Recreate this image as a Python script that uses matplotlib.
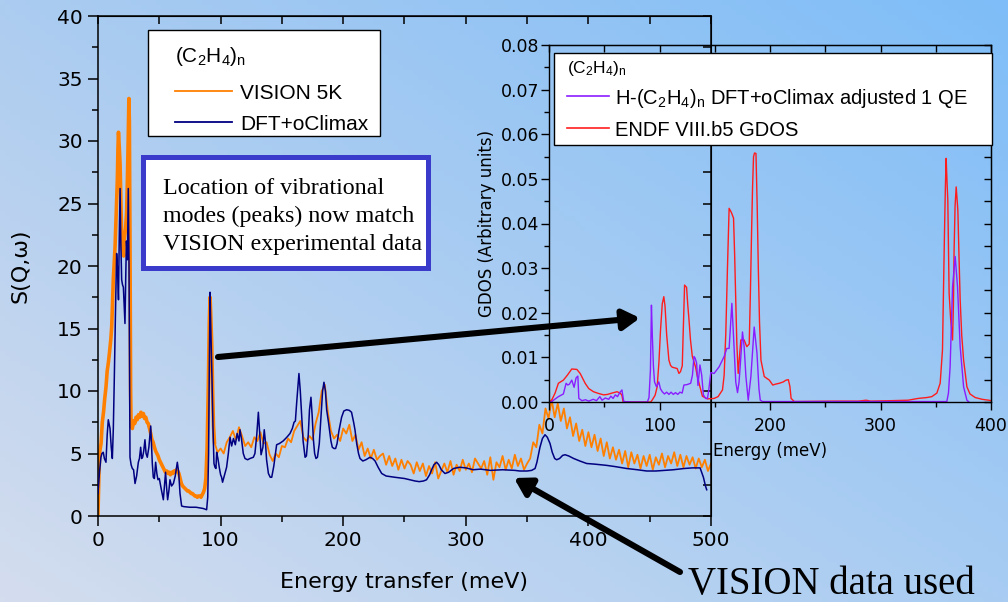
import numpy as np
import matplotlib
matplotlib.use('Agg')
import matplotlib.pyplot as plt
from matplotlib.patches import Rectangle, FancyArrowPatch
from matplotlib.lines import Line2D
from matplotlib.ticker import MultipleLocator, FormatStrFormatter

plt.rcParams['font.family'] = ['DejaVu Sans']
plt.rcParams['mathtext.default'] = 'regular'

# ---- main panel: VISION 5K (orange), low-energy part read point by point
vis_lo_e = [0, 0.8, 1.5, 2.5, 3.5, 4.5, 5.5, 6.5, 7.5, 8.5, 9.5, 10.5, 11.2, 12, 12.5, 13.2,
            13.9, 14.6, 15.3, 15.8, 16.3, 16.7, 17.2, 18, 18.7, 19.3, 20, 21, 21.5, 22.5, 23.3,
            24, 24.6, 25.2, 25.6, 26.1, 26.6, 27, 28, 29, 30, 31, 32, 33, 34, 35, 36, 37, 38,
            39, 40, 41, 42, 43, 44, 45, 46, 47, 48, 49, 50, 51, 52, 53, 54, 55, 56, 57, 58, 59,
            60, 61, 62, 63, 64, 65, 66, 67, 68, 69, 70, 71, 72, 73, 74, 75, 76, 77, 78, 79, 80,
            81, 82, 83, 84, 85, 86, 87, 88, 89, 90, 90.8, 91.4, 92, 92.8, 93.5, 94.2, 95]
vis_lo_s = [0.2, 3.5, 5.2, 5.8, 7.5, 8.3, 9.4, 10.3, 11.6, 12.3, 13.2, 14.2, 15.2, 17.5, 19, 20.2,
            21.5, 23.5, 25.5, 27, 29.5, 30.7, 29.8, 28.2, 25, 22.5, 21.3, 20.8, 22.2, 23, 24.2,
            27, 30, 33.4, 31.5, 22, 10, 7.2, 7.0, 7.6, 7.4, 7.9, 7.7, 8.1, 7.9, 8.3, 8.0, 8.2, 7.8,
            7.9, 7.5, 7.4, 7.0, 6.6, 6.1, 5.9, 5.5, 5.2, 5.0, 4.8, 4.5, 4.3, 4.1, 3.9, 3.7, 3.5,
            3.6, 3.4, 3.5, 3.3, 3.5, 3.4, 3.6, 3.5, 3.7, 3.6, 3.4, 3.0, 2.6, 2.4, 2.3, 2.2, 2.1,
            2.0, 2.0, 1.9, 1.8, 1.8, 1.7, 1.6, 1.6, 1.5, 1.6, 1.6, 1.5, 1.7, 1.9, 2.2, 3.0, 5.5,
            10.5, 15.5, 17.5, 16, 13.6, 10, 7.2, 5.9]
# 95 ... 500 meV, 2.5 meV bins (10 per row, row k starts at 95 + 25k)
vis_hi_s = [5.9, 5.1, 5.4, 5.0, 5.9, 6.3, 6.8, 6.1, 7.1, 6.4,
            5.6, 5.9, 5.5, 6.3, 6.0, 6.7, 5.8, 5.9, 4.9, 4.4,
            5.0, 4.7, 5.6, 5.5, 6.2, 5.9, 6.8, 7.2, 7.6, 6.3,
            6.0, 6.4, 6.1, 7.4, 8.3, 10.0, 10.5, 8.3, 6.8, 6.2,
            6.5, 6.0, 7.0, 6.6, 7.3, 6.0, 6.5, 5.3, 5.9, 4.8,
            5.4, 4.6, 5.3, 4.5, 4.8, 5.0, 4.1, 4.8, 4.0, 4.6,
            3.7, 4.5, 3.8, 4.4, 4.1, 3.4, 4.3, 3.6, 4.2, 3.2,
            4.0, 3.4, 4.3, 3.0, 3.6, 4.2, 3.5, 4.4, 3.3, 4.1,
            3.6, 4.5, 3.7, 4.2, 3.5, 4.6, 4.2, 3.8, 4.4, 3.3,
            4.7, 2.9, 4.3, 3.9, 4.8, 3.7, 4.5, 3.8, 4.9, 4.0,
            4.6, 3.7, 4.2, 4.6, 5.9, 5.5, 7.3, 6.6, 8.6, 7.8,
            9.3, 7.9, 9.0, 7.6, 8.6, 7.0, 7.9, 6.4, 7.4, 6.0,
            6.9, 5.6, 6.7, 5.5, 6.5, 5.2, 6.2, 4.8, 5.9, 4.6,
            5.5, 4.5, 5.3, 4.2, 5.2, 3.9, 5.1, 4.2, 4.9, 3.8,
            4.8, 4.0, 4.9, 3.7, 4.7, 4.1, 5.0, 3.9, 4.8, 4.2,
            5.1, 4.0, 4.9, 3.9, 4.8, 4.1, 4.7, 3.8, 4.6, 3.9,
            4.5, 3.6, 4.2]
vis_hi_e = np.arange(95, 500.01, 2.5)

# ---- main panel: DFT+oClimax (navy)
dft_e = [0, 1.2, 2.4, 3.2, 4.3, 5.2, 6.5, 7.5, 8.4, 9.8, 10.8, 11.7, 12.5, 13.3, 14.2, 15.2,
         16, 16.7, 17.3, 18, 18.6, 19.3, 20, 20.7, 22, 22.6, 23.2, 24, 24.7, 25.3, 26.1, 27, 28,
         29, 30.2, 31.5, 32.9, 33.8, 34.8, 35.6, 36.4, 37.3, 38.3, 39.2, 40.2, 41.5, 43, 43.7,
         44.3, 45.1, 46, 47, 48, 48.9, 50, 51.5, 53.3, 54.2, 55.1, 56, 56.8, 57.8, 58.7, 60,
         61.5, 63, 64.7, 65.8, 66.9, 68.2, 70, 75, 80, 85.9, 88.6, 89.5, 90.2, 90.8, 91.4, 92,
         93, 93.8, 94.6, 95.4, 96.2, 96.8, 97.8, 98.9, 100, 100.8, 101.6, 103, 104.9, 106.3,
         107.7, 109, 110.5, 112, 113.5, 115, 115.8, 117, 118.5, 119.9, 122, 124, 126.7, 128,
         129.5, 130.8, 132, 133, 134.5, 135.6, 136.5, 137.5, 139, 140.5, 141.7, 143.4, 145.7,
         148, 151, 154, 156.6, 158.5, 159.9, 161, 162, 163.9, 165, 166, 167.3, 168.9, 170,
         171.5, 172.5, 173.7, 174.7, 175.7, 176.7, 177.8, 179, 180.5, 182, 183.2, 184.3, 185.5,
         186.5, 188, 190, 191.1, 192.5, 193.8, 195, 196.5, 198.7, 200.5, 202.8, 205, 206.8,
         208.5, 209.6, 211, 212.5, 213.7, 216, 218.5, 221.9, 224, 226, 228.5, 231.4, 235, 242,
         250, 258.6, 262, 265.5, 268, 270.5, 272.1, 274, 276.2, 278, 280, 283, 286, 290, 295,
         300, 306, 312, 320, 330, 340, 344, 350, 353.7, 356.5, 358, 360.5, 362.5, 364.6, 366.5,
         368.7, 370.5, 372.5, 374.1, 376.5, 379, 381, 384, 388, 393, 398.6, 405, 414.9, 422,
         431.2, 440, 447.5, 455, 462, 469.3, 478, 485, 491.1, 493.8, 495.5, 496.5]
dft_s = [1.8, 3.5, 4.7, 5.0, 5.1, 4.6, 4.3, 6.5, 7.7, 7.0, 5.5, 4.6, 7, 11, 16, 21,
         19.5, 17.3, 22, 26.2, 22, 18.9, 18.5, 18.3, 15.4, 19, 22, 20.5, 26.2, 20, 4.7, 4.1, 3.8,
         3.7, 2.6, 3.2, 4.3, 4.6, 5.5, 4.6, 4.7, 5.2, 6.1, 5.0, 4.7, 5.5, 7.2, 5.5,
         4.2, 3.1, 3.0, 4.3, 3.4, 2.9, 3.0, 2.2, 1.3, 2.4, 3.5, 2.2, 1.3, 2.0, 2.9, 2.4,
         2.6, 3.2, 4.3, 3.5, 1.8, 0.8, 0.75, 0.7, 0.7, 0.6, 0.5, 1.5, 5, 12, 17.9, 15,
         10.9, 7, 4.2, 3.9, 3.8, 5.1, 4.6, 3.9, 3.3, 3.1, 2.7, 3.2, 3.9, 5.0,
         6.3, 5.6, 6.2, 5.7, 6.6, 6.0, 6.9, 6.2, 5.0, 4.6, 4.5, 4.6, 4.7, 5.0,
         6.5, 8.3, 6.5, 4.9, 5.5, 6.9, 6.0, 4.5, 3.4, 3.1, 3.1, 4.0, 5.7,
         5.8, 6.0, 6.3, 6.6, 7.0, 7.5, 7.6, 9.0, 11.4, 10, 8.3, 6.0, 4.7, 4.8,
         6.5, 8.5, 9.5, 8, 6.1, 5.0, 4.6, 4.7, 5.8, 8.2, 10.0, 10.7, 10,
         8.5, 7.5, 6.0, 5.5, 5.4, 5.4, 5.8, 6.8, 7.9, 8.4, 8.5, 8.45, 8.3,
         7.5, 6.9, 5.8, 5.0, 4.6, 4.4, 4.5, 4.7, 4.6, 4.4, 3.9, 3.4, 3.2, 3.1,
         3.0, 2.8, 2.75, 2.8, 2.9, 3.3, 3.7, 4.1, 4.3, 4.1, 3.7, 3.4, 3.5, 3.8, 3.9,
         3.85, 3.7, 3.75, 3.65, 3.7, 3.65, 3.6, 3.6, 3.65, 3.8, 4.3, 5.5, 6.2, 6.5, 6.3,
         5.8, 5.1, 4.6, 4.5, 4.6, 4.85, 4.9, 4.8, 4.6, 4.4, 4.2, 4.15, 4.05, 3.95,
         3.8, 3.7, 3.6, 3.6, 3.65, 3.7, 3.8, 3.85, 3.85, 3.1, 2.4, 2.1]

# ---- inset: H-(C2H4)n DFT+oClimax adjusted (purple)
h_e = [0, 2.4, 8.5, 13, 15.5, 17, 18.5, 20.6, 22.7, 24.5, 26.1, 27, 29.8, 33, 36, 40, 43, 46,
       48, 51, 54, 56, 58, 60, 62, 64, 66, 67.6, 75, 89, 90.5, 91.8, 92.7, 93.5, 94.5, 95.5,
       97.3, 99.4, 100.8, 102.5, 104.5, 106.5, 108.5, 110.5, 112.5, 114.5, 116.5, 118.5, 120.5,
       122.1, 125, 128.2, 129.8, 131.2, 132.3, 133.6, 134.8, 136.6, 138.2, 139.7, 141.8, 143.4,
       144.5, 146.4, 149.4, 154, 158.5, 160.9, 163, 165.5, 167.6, 169, 170.6, 172, 173, 175.1,
       176.6, 178.2, 180.3, 182.7, 185.7, 188.2, 190, 191.2, 193.3, 360, 361.5, 363, 365.2,
       367.6, 369.7, 372.1, 375.2, 378.2, 380]
h_g = [0, 0.0001, 0.0012, 0.0018, 0.0042, 0.0038, 0.004, 0.0049, 0.0033, 0.0054, 0.0058,
       0.0008, 0.0003, 0.0005, 0.0002, 0.0006, 0.0003, 0.0012, 0.0004, 0.0009, 0.0006, 0.0013,
       0.0008, 0.0016, 0.0012, 0.0021, 0.0027, 0.0001, 0, 0, 0.001, 0.0072, 0.0217, 0.015,
       0.008, 0.0045, 0.0034, 0.0045, 0.003, 0.0023, 0.0018, 0.0022, 0.0017, 0.0022, 0.0017,
       0.0021, 0.0017, 0.0022, 0.002, 0.0038, 0.0039, 0.0042, 0.006, 0.0102, 0.0098, 0.0087,
       0.0037, 0.0083, 0.006, 0.0016, 0.0008, 0.0008, 0.0025, 0.0066, 0.0064, 0.0079, 0.0102,
       0.012, 0.012, 0.0221, 0.0117, 0.0045, 0.0021, 0.0045, 0.0079, 0.0157, 0.0124, 0.0057,
       0.0004, 0.0057, 0.0168, 0.011, 0.003, 0.0004, 0.0001, 0.0001, 0.002, 0.0079, 0.0258,
       0.0326, 0.0258, 0.0124, 0.0034, 0.0004, 0]

# ---- inset: ENDF VIII.b5 GDOS (red)
endf_e = [0, 2.4, 5.5, 8.5, 13, 16.6, 20.6, 25.2, 28.2, 32.7, 36, 40.3, 45, 49.4, 53, 57,
          61.5, 64.5, 66, 67, 75, 92, 93.3, 96, 97.9, 99.5, 100.9, 102.5, 103.9, 105, 106.5,
          108.5, 110, 111.5, 116, 117.6, 119, 120.6, 121.5, 122.7, 124.5, 125.5, 126.7, 128,
          129.7, 132.7, 134, 135.8, 138.8, 143.3, 149.4, 153, 157, 158.5, 160, 161.5, 163,
          165, 167, 168, 169, 170, 171.2, 172.5, 173.6, 176.6, 179, 181.2, 182.3, 183.3, 184.2,
          185.1, 186, 187.3, 188.4, 189.4, 190.5, 191.8, 194.8, 199.4, 202.5, 205, 208.5, 212,
          214.5, 216.6, 218, 219.1, 222, 260, 280, 287, 291, 310, 325, 334, 342, 346.4, 351,
          354, 356.1, 357, 357.9, 358.7, 359.4, 360.1, 360.9, 362.1, 363.5, 365.2, 366, 366.6,
          367.5, 368.5, 370, 371, 372.1, 373.5, 375.2, 378.2, 381, 385.7, 392, 397.9, 400]
endf_g = [0, 0.0004, 0.002, 0.0042, 0.0049, 0.006, 0.0074, 0.0073, 0.0064, 0.0042, 0.003,
          0.0023, 0.0019, 0.0016, 0.0017, 0.002, 0.0023, 0.002, 0.0015, 0.0001, 0, 0, 0.0004,
          0.0015, 0.0034, 0.009, 0.016, 0.022, 0.0236, 0.0215, 0.015, 0.0094, 0.0082, 0.0078,
          0.0075, 0.0064, 0.0068, 0.0081, 0.016, 0.0262, 0.0257, 0.022, 0.0184, 0.014, 0.0102,
          0.0078, 0.006, 0.0042, 0.0013, 0.0007, 0.0008, 0.0012, 0.0027, 0.006, 0.0154, 0.03,
          0.0434, 0.0425, 0.0412, 0.033, 0.0229, 0.013, 0.0064, 0.0105, 0.0139, 0.0139, 0.0124,
          0.013, 0.025, 0.0378, 0.048, 0.055, 0.0558, 0.0557, 0.044, 0.0303, 0.018, 0.0094,
          0.0057, 0.0049, 0.0038, 0.004, 0.0042, 0.0045, 0.0049, 0.005, 0.0035, 0.0008, 0.0001,
          0.0002, 0.0002, 0.0004, 0.0002, 0.0003, 0.0004, 0.0008, 0.001, 0.0012, 0.002, 0.0042,
          0.0117, 0.025, 0.0378, 0.048, 0.0546, 0.05, 0.0453, 0.0244, 0.0185, 0.0139, 0.022,
          0.034, 0.044, 0.0482, 0.043, 0.033, 0.0229, 0.015, 0.0094, 0.0034, 0.0018, 0.001,
          0.0006, 0.0004, 0.0003]

W, H = 1008, 602
fig = plt.figure(figsize=(W / 100, H / 100), dpi=100)


def fbox(x0, y0, x1, y1):
    # pixel box (top-left origin) -> figure fraction rect
    return [x0 / W, 1 - y1 / H, (x1 - x0) / W, (y1 - y0) / H]


def fp(x, y):
    return (x / W, 1 - y / H)


# slide-like background gradient
bg = fig.add_axes([0, 0, 1, 1], zorder=-10)
yy, xx = np.mgrid[0:1:120j, 0:1:200j]
xx, yy = xx[..., None], yy[..., None]
c_tl = np.array([172, 204, 240]) / 255
c_tr = np.array([126, 189, 248]) / 255
c_bl = np.array([212, 221, 238]) / 255
c_br = np.array([168, 204, 242]) / 255
img = (c_tl * (1 - xx) * (1 - yy) + c_tr * xx * (1 - yy)
       + c_bl * (1 - xx) * yy + c_br * xx * yy)
bg.imshow(img, extent=[0, 1, 0, 1], aspect='auto', origin='upper')
bg.axis('off')

# ---- main axes
ax = fig.add_axes(fbox(98, 16, 711, 516))
ax.patch.set_alpha(0)
ax.plot(vis_lo_e, vis_lo_s, color='#ff8000', lw=2.6, zorder=2)
ax.plot(vis_hi_e, vis_hi_s, color='#ff8000', lw=1.3, zorder=2)
ax.plot(dft_e, dft_s, color='#000080', lw=1.1, zorder=3)
ax.set_xlim(0, 500)
ax.set_ylim(0, 40)
ax.xaxis.set_major_locator(MultipleLocator(100))
ax.xaxis.set_minor_locator(MultipleLocator(50))
ax.yaxis.set_major_locator(MultipleLocator(5))
ax.yaxis.set_minor_locator(MultipleLocator(2.5))
ax.tick_params(which='major', direction='out', length=7, width=1.1, labelsize=14.5, pad=4)
ax.tick_params(which='minor', direction='out', length=4, width=1.1)
for sp in ax.spines.values():
    sp.set_linewidth(1.1)
top = ax.secondary_xaxis('top')
top.xaxis.set_major_locator(MultipleLocator(50))
top.tick_params(direction='in', length=6, width=1.1, labeltop=False)
right = ax.secondary_yaxis('right')
right.yaxis.set_major_locator(MultipleLocator(2.5))
right.tick_params(direction='in', length=6, width=1.1, labelright=False)
ax.set_xlabel('Energy transfer (meV)', fontsize=16, labelpad=16)
ax.set_ylabel('S(Q,ω)', fontsize=16, labelpad=19)

# ---- inset
ins = fig.add_axes(fbox(549, 45, 991, 402))
ins.patch.set_alpha(0)
ins.plot(endf_e, endf_g, color='#ff1c1c', lw=1.0)
ins.plot(h_e, h_g, color='#8a1cff', lw=1.0)
ins.set_xlim(0, 400)
ins.set_ylim(0, 0.08)
ins.xaxis.set_major_locator(MultipleLocator(100))
ins.xaxis.set_minor_locator(MultipleLocator(50))
ins.yaxis.set_major_locator(MultipleLocator(0.01))
ins.yaxis.set_minor_locator(MultipleLocator(0.005))
ins.yaxis.set_major_formatter(FormatStrFormatter('%.2f'))
ins.tick_params(which='major', direction='out', length=6, width=1.0, labelsize=12.5)
ins.tick_params(which='minor', direction='out', length=3.5, width=1.0)
ins.tick_params(axis='y', pad=1)
ins.tick_params(axis='x', pad=5)
for sp in ins.spines.values():
    sp.set_linewidth(1.0)
itop = ins.secondary_xaxis('top')
itop.xaxis.set_major_locator(MultipleLocator(50))
itop.tick_params(direction='in', length=5, width=1.0, labeltop=False)
iright = ins.secondary_yaxis('right')
iright.yaxis.set_major_locator(MultipleLocator(0.005))
iright.tick_params(direction='in', length=5, width=1.0, labelright=False)
ins.set_xlabel('Energy (meV)', fontsize=12, labelpad=5)
ins.set_ylabel('GDOS (Arbitrary units)', fontsize=12, labelpad=3)

tf = fig.transFigure
sans = 'Liberation Sans'
serif = 'Liberation Serif'
formula = r'(C$_2$H$_4$)$_n$'

# ---- main legend
fig.add_artist(Rectangle(fp(148, 136), 232 / W, 106 / H, transform=tf,
                         facecolor='white', edgecolor='black', lw=1.0, zorder=5))
fig.text(*fp(175, 62), formula, family=sans, fontsize=15, va='baseline', zorder=6)
fig.add_artist(Line2D([175 / W, 232 / W], [fp(0, 90.7)[1]] * 2, transform=tf,
                      color='#ff8000', lw=1.3, zorder=6))
fig.text(*fp(240, 99.5), 'VISION 5K', family=sans, fontsize=15, va='baseline', zorder=6)
fig.add_artist(Line2D([175 / W, 232 / W], [fp(0, 121.7)[1]] * 2, transform=tf,
                      color='#000080', lw=1.3, zorder=6))
fig.text(*fp(240, 130), 'DFT+oClimax', family=sans, fontsize=15, va='baseline', zorder=6)

# ---- inset legend
fig.add_artist(Rectangle(fp(554, 145), 438 / W, 92 / H, transform=tf,
                         facecolor='white', edgecolor='black', lw=1.0, zorder=5))
fig.text(*fp(567, 73.5), formula, family=sans, fontsize=12.5, va='baseline', zorder=6)
fig.add_artist(Line2D([567 / W, 609 / W], [fp(0, 96)[1]] * 2, transform=tf,
                      color='#8a1cff', lw=1.2, zorder=6))
fig.text(*fp(615, 103.5), r'H-(C$_2$H$_4$)$_n$ DFT+oClimax adjusted 1 QE', family=sans,
         fontsize=14.5, va='baseline', zorder=6)
fig.add_artist(Line2D([567 / W, 609 / W], [fp(0, 128.3)[1]] * 2, transform=tf,
                      color='#ff1c1c', lw=1.2, zorder=6))
fig.text(*fp(615, 135.5), 'ENDF VIII.b5 GDOS', family=sans, fontsize=14.5, va='baseline',
         zorder=6)

# ---- annotation box
fig.add_artist(Rectangle(fp(143, 268), 285 / W, 111 / H, transform=tf,
                         facecolor='white', edgecolor='#3a3acb', lw=3.6, zorder=5))
for txt, yb in [('Location of vibrational', 193.5), ('modes (peaks) now match', 221.7),
                ('VISION experimental data', 250)]:
    fig.text(*fp(163, yb), txt, family=serif, fontsize=17.3, va='baseline', zorder=6)

# ---- arrows
for a, b in [((218, 357), (640, 318)), ((680, 572), (514, 478))]:
    fig.add_artist(FancyArrowPatch(fp(*a), fp(*b), transform=tf,
                                   arrowstyle='-|>,head_length=1.0,head_width=0.6',
                                   mutation_scale=10, lw=4.4, color='black',
                                   shrinkA=0, shrinkB=0, zorder=7))

fig.text(*fp(688, 594), 'VISION data used', family=serif, fontsize=28, va='baseline', zorder=6)

fig.savefig('out.png', dpi=100)
